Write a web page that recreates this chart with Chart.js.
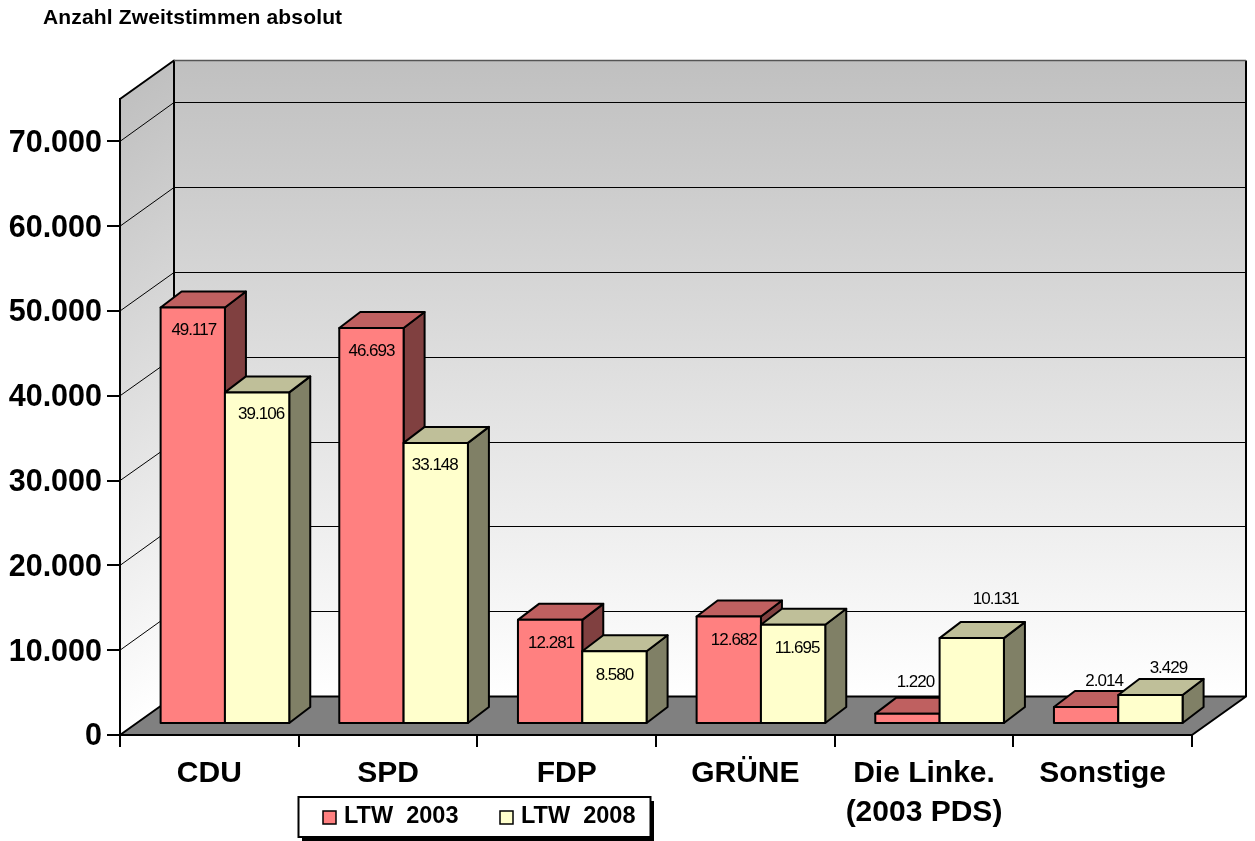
<!DOCTYPE html>
<html><head><meta charset="utf-8">
<style>html,body{margin:0;padding:0;background:#fff}canvas{display:block}</style>
<script src="https://cdn.jsdelivr.net/npm/chart.js@4/dist/chart.umd.min.js"></script>
</head><body>
<canvas id="c" width="1255" height="841"></canvas>
<script>
const categories = [['CDU'], ['SPD'], ['FDP'], ['GRÜNE'], ['Die Linke.', '(2003 PDS)'], ['Sonstige']];
const seriesNames = ['LTW 2003', 'LTW 2008'];
const ltw2003 = [49117, 46693, 12281, 12682, 1220, 2014];
const ltw2008 = [39106, 33148, 8580, 11695, 10131, 3429];
const yTickValues = [0, 10000, 20000, 30000, 40000, 50000, 60000, 70000];
const titleText = 'Anzahl Zweitstimmen absolut';
const yMax = 75000;

const FONT = '"Liberation Sans", Arial, sans-serif';
const WALL = {dx: 54, dy: -38.5};
const BAR_OFFSET = {dx: 15.6, dy: -11};
const BAR_DEPTH = {dx: 21, dy: -16};
const fills = [
  {front: '#FF8080', top: '#BF6060', side: '#804040'},
  {front: '#FFFFCC', top: '#BFBF99', side: '#808066'}
];
// label nudges relative to the top-centre of each bar's front face
const labelNudge = [
  [[1, 23], [0, 23], [1, 23], [5, 24], [8, -31], [18, -26]],
  [[4, 22], [-1, 22], [0, 24], [4, 23], [24, -39], [18, -27]]
];
const fmt = v => String(v).replace(/\B(?=(\d{3})+$)/g, '.');

const walls = {
  id: 'walls',
  beforeDraw(chart) {
    const {ctx, chartArea: a, scales: {y}} = chart;
    const d = WALL;
    const fy = y.getPixelForValue(yMax), by = y.getPixelForValue(0);
    ctx.save();
    const grad = ctx.createLinearGradient(0, fy, 0, by);
    grad.addColorStop(0, '#C0C0C0');
    grad.addColorStop(1, '#FFFFFF');
    // back wall
    ctx.save();
    ctx.translate(d.dx, d.dy);
    ctx.fillStyle = grad;
    ctx.fillRect(a.left, fy, a.right - a.left, by - fy);
    ctx.restore();
    // side wall (sheared)
    ctx.save();
    ctx.transform(1, d.dy / d.dx, 0, 1, a.left, 0);
    ctx.fillStyle = grad;
    ctx.fillRect(0, fy, d.dx, by - fy);
    ctx.restore();
    // gridlines
    ctx.strokeStyle = '#000';
    ctx.lineWidth = 1;
    y.ticks.forEach(t => {
      if (t.value === 0) return;
      const p = y.getPixelForValue(t.value);
      const bk = Math.floor(p + d.dy) + 0.5;
      ctx.beginPath();
      ctx.moveTo(a.left, p);
      ctx.lineTo(a.left + d.dx, bk);
      ctx.lineTo(a.right + d.dx, bk);
      ctx.stroke();
    });
    // floor
    ctx.beginPath();
    ctx.moveTo(a.left, by);
    ctx.lineTo(a.left + d.dx, by + d.dy);
    ctx.lineTo(a.right + d.dx, by + d.dy);
    ctx.lineTo(a.right, by);
    ctx.closePath();
    ctx.fillStyle = '#808080';
    ctx.fill();
    ctx.lineWidth = 2;
    ctx.lineJoin = 'round';
    ctx.stroke();
    // wall outlines
    ctx.lineWidth = 2;
    ctx.beginPath();
    ctx.moveTo(a.left, by);
    ctx.lineTo(a.left, fy);
    ctx.lineTo(a.left + d.dx, fy + d.dy);
    ctx.lineTo(a.left + d.dx, by + d.dy);
    ctx.moveTo(a.right + d.dx, by + d.dy);
    ctx.lineTo(a.right + d.dx, fy + d.dy);
    ctx.stroke();
    ctx.strokeStyle = '#555';
    ctx.lineWidth = 1.5;
    ctx.beginPath();
    ctx.moveTo(a.left + d.dx, fy + d.dy);
    ctx.lineTo(a.right + d.dx, fy + d.dy);
    ctx.stroke();
    ctx.restore();
    // title
    ctx.save();
    ctx.fillStyle = '#000';
    ctx.font = 'bold 21px ' + FONT;
    ctx.letterSpacing = '0.15px';
    ctx.textBaseline = 'middle';
    ctx.fillText(titleText, 43, 18);
    ctx.restore();
  }
};

const bars3d = {
  id: 'bars3d',
  beforeDatasetsDraw(chart) {
    const {ctx} = chart;
    const o = BAR_OFFSET, d = BAR_DEPTH;
    // left series first so the right-hand bar covers its neighbour's side face
    chart.data.datasets.forEach((ds, i) => {
      const meta = chart.getDatasetMeta(i);
      const f = fills[i];
      ctx.save();
      ctx.strokeStyle = '#000';
      ctx.lineWidth = 2;
      ctx.lineJoin = 'round';
      meta.data.forEach(el => {
        const {x, y, base, width} = el.getProps(['x', 'y', 'base', 'width'], true);
        const l = x - width / 2 + o.dx, r = x + width / 2 + o.dx;
        const t = y + o.dy, b = base + o.dy;
        ctx.beginPath();
        ctx.moveTo(r, t);
        ctx.lineTo(r + d.dx, t + d.dy);
        ctx.lineTo(r + d.dx, b + d.dy);
        ctx.lineTo(r, b);
        ctx.closePath();
        ctx.fillStyle = f.side;
        ctx.fill();
        ctx.stroke();
        ctx.beginPath();
        ctx.moveTo(l, t);
        ctx.lineTo(l + d.dx, t + d.dy);
        ctx.lineTo(r + d.dx, t + d.dy);
        ctx.lineTo(r, t);
        ctx.closePath();
        ctx.fillStyle = f.top;
        ctx.fill();
        ctx.stroke();
      });
      ctx.save();
      ctx.translate(o.dx, o.dy);
      meta.controller.draw();
      ctx.restore();
      meta.data.forEach(el => {
        const {x, y, base, width} = el.getProps(['x', 'y', 'base', 'width'], true);
        ctx.strokeRect(x - width / 2 + o.dx, y + o.dy, width, base - y);
      });
      ctx.restore();
    });
    // value labels
    ctx.save();
    ctx.fillStyle = '#000';
    ctx.font = '17px ' + FONT;
    ctx.letterSpacing = '-1px';
    ctx.textAlign = 'center';
    ctx.textBaseline = 'middle';
    chart.data.datasets.forEach((ds, i) => {
      chart.getDatasetMeta(i).data.forEach((el, j) => {
        const n = labelNudge[i][j];
        ctx.fillText(fmt(ds.data[j]), el.x + o.dx + n[0], el.y + o.dy + n[1]);
      });
    });
    ctx.restore();
    return false;
  },
  afterDraw(chart) {
    const {ctx} = chart;
    ctx.save();
    // legend frame with hard shadow
    ctx.fillStyle = '#000';
    ctx.fillRect(302, 801, 352, 40);
    ctx.fillStyle = '#fff';
    ctx.fillRect(298, 797, 353, 40);
    ctx.strokeStyle = '#000';
    ctx.lineWidth = 2;
    ctx.strokeRect(298.5, 797, 352, 40);
    const pos = [[323, 344], [500, 521]];
    chart.data.datasets.forEach((ds, i) => {
      ctx.fillStyle = fills[i].front;
      ctx.fillRect(pos[i][0], 811, 13, 13);
      ctx.lineWidth = 1.5;
      ctx.strokeRect(pos[i][0], 811, 13, 13);
      ctx.fillStyle = '#000';
      ctx.font = 'bold 23.5px ' + FONT;
      ctx.wordSpacing = '6.5px';
      ctx.textBaseline = 'middle';
      ctx.fillText(ds.label, pos[i][1], 817);
    });
    ctx.restore();
  }
};

new Chart(document.getElementById('c'), {
  type: 'bar',
  data: {
    labels: categories,
    datasets: [
      {label: seriesNames[0], data: ltw2003, backgroundColor: fills[0].front, borderWidth: 0},
      {label: seriesNames[1], data: ltw2008, backgroundColor: fills[1].front, borderWidth: 0}
    ]
  },
  plugins: [walls, bars3d],
  options: {
    responsive: false,
    animation: false,
    events: [],
    layout: {padding: {left: 0, right: 63, top: 99, bottom: 0}},
    datasets: {bar: {categoryPercentage: 0.72, barPercentage: 1}},
    plugins: {legend: {display: false}, title: {display: false}, tooltip: {enabled: false}},
    scales: {
      x: {
        afterFit(s) { s.height = 106; },
        grid: {drawOnChartArea: false, drawTicks: true, tickLength: 12, tickColor: '#000', lineWidth: 2, offset: true},
        border: {display: true, color: '#000', width: 2},
        ticks: {color: '#000', autoSkip: false, maxRotation: 0, padding: 7, labelOffset: 0,
          font: {family: FONT, size: 30, weight: 'bold', lineHeight: 1.3}}
      },
      y: {
        min: 0, max: yMax,
        afterFit(s) { s.width = 120; },
        afterBuildTicks(s) { s.ticks = yTickValues.map(value => ({value})); },
        grid: {drawOnChartArea: false, drawTicks: true, tickLength: 13, tickColor: '#000', lineWidth: 2},
        border: {display: true, color: '#000', width: 2},
        ticks: {color: '#000', padding: 5, labelOffset: 2,
          callback: v => fmt(v),
          font: {family: FONT, size: 30.5, weight: 'bold'}}
      }
    }
  }
});
</script>
</body></html>
